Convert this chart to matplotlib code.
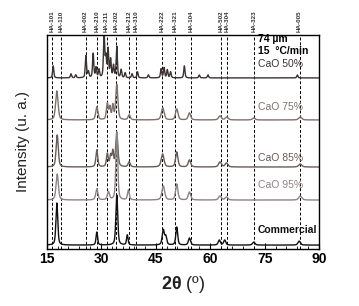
import matplotlib
matplotlib.use("Agg")
import matplotlib.pyplot as plt
import numpy as np
from matplotlib.ticker import MultipleLocator

plt.rcParams['font.family'] = ['Liberation Sans', 'DejaVu Sans']
plt.rcParams['mathtext.fontset'] = 'custom'
plt.rcParams['mathtext.bf'] = 'Liberation Sans:bold'

# reference lines (2theta, deg) and their labels
ref_pos = [16.5, 18.9, 25.7, 28.8, 31.5, 34.1, 37.7, 39.6, 46.7, 50.3,
           54.7, 62.9, 64.7, 72.1, 84.6]
ref_lab = ["HA-101", "HA-110", "HA-002", "HA-210", "HA-211", "HA-202",
           "HA-212", "HA-310", "HA-222", "HA-321", "HA-104", "HA-502",
           "HA-304", "HA-323", "HA-005"]

# each pattern: peak positions (deg), heights (px above baseline), widths (deg)
cao50_pos = [16.8, 21.7, 23.0, 25.8, 26.5, 27.8, 28.6, 29.4, 30.8, 31.3, 31.9,
             32.6, 33.4, 34.3, 35.5, 36.6, 38.5, 40.0, 43.0, 46.5, 47.3, 48.2,
             49.1, 52.9, 57.0, 59.4, 84.0]
cao50_h = [12, 4, 3, 22, 6, 24, 10, 8, 43, 20, 28, 18, 12, 31, 8, 5, 4, 6, 3,
           9, 10, 8, 6, 12, 3, 3, 3]
cao50_w = [0.4] * 27

cao75_pos = [17.8, 28.8, 31.7, 32.4, 33.2, 34.3, 37.7, 46.95, 50.8, 54.3,
             62.7, 64.6, 72.0, 84.8]
cao75_h = [29, 13, 16, 12, 14, 35, 5, 12, 11, 7, 4, 3, 2, 3]
cao75_w = [0.8, 0.7, 0.6, 0.5, 0.5, 0.7, 0.7, 0.9, 0.8, 0.8, 0.9, 0.9, 0.9, 1.0]

cao85_pos = [17.9, 28.8, 31.7, 32.6, 33.2, 34.3, 37.7, 46.9, 50.8, 54.3, 62.7,
             64.5, 84.8]
cao85_h = [32, 17, 13, 11, 15, 34, 5, 13, 15, 7, 5, 4, 3]
cao85_w = [0.7, 0.6, 0.6, 0.5, 0.5, 0.7, 0.7, 0.9, 0.75, 0.8, 0.9, 0.9, 1.0]

cao95_pos = [17.9, 28.8, 32.0, 34.3, 37.5, 47.1, 50.8, 54.3, 62.7, 64.5, 84.8]
cao95_h = [26, 11, 8, 68, 10, 14, 16, 8, 4, 3, 4]
cao95_w = [0.75, 0.7, 0.7, 0.6, 0.6, 0.9, 0.75, 0.8, 0.9, 0.9, 1.0]

comm_pos = [17.8, 28.8, 34.3, 37.2, 47.1, 47.8, 50.8, 54.3, 62.5, 64.0, 72.0,
            84.5]
comm_h = [42, 13, 50, 10, 15, 8, 18, 7, 5, 5, 3, 4]
comm_w = [0.6, 0.5, 0.6, 0.5, 0.7, 0.6, 0.6, 0.7, 0.7, 0.7, 0.8, 0.8]

names = ["CaO 50%", "CaO 75%", "CaO 85%", "CaO 95%", "Commercial"]
offsets = [171, 129, 82, 49, 4]
label_y = [185, 142, 91, 64, 19]
colors = ["#3b3232", "#7b716d", "#665c58", "#8c8482", "#111111"]

two_theta = np.arange(15, 90.01, 0.02)


def pattern(pos, h, w):
    # pseudo-Voigt peaks, half Gaussian / half Lorentzian
    y = np.zeros_like(two_theta)
    for p, a, g in zip(pos, h, w):
        d = (two_theta - p) / (g / 2)
        y += a * (0.5 / (1 + d ** 2) + 0.5 * np.exp(-np.log(2) * d ** 2))
    return y


series = [(cao50_pos, cao50_h, cao50_w), (cao75_pos, cao75_h, cao75_w),
          (cao85_pos, cao85_h, cao85_w), (cao95_pos, cao95_h, cao95_w),
          (comm_pos, comm_h, comm_w)]

fig = plt.figure(figsize=(3.59, 3.06), dpi=100)
ax = fig.add_axes([0.130, 0.186, 0.759, 0.700])

for x in ref_pos:
    ax.axvline(x, color="black", lw=0.7, ls=(0, (3, 2)), zorder=1)
for x, t in zip(ref_pos, ref_lab):
    ax.text(x, 1.012, t, transform=ax.get_xaxis_transform(), rotation=90,
            ha="center", va="bottom", fontsize=4.5, fontweight="bold",
            color="#333333")

for (pos, h, w), off, c in zip(series, offsets, colors):
    ax.plot(two_theta, pattern(pos, h, w) + off, color=c, lw=1.0, zorder=2)

for n, y, c in zip(names, label_y, colors):
    ax.text(73.2, y, n, fontsize=7.5, color=c, va="center",
            fontweight="bold" if n == "Commercial" else "normal")

ax.text(73.2, 209.5, "74 \u00b5m", fontsize=7.5, fontweight="bold", va="center")
ax.text(73.2, 198, "15  \u00b0C/min", fontsize=7.5, fontweight="bold", va="center")

ax.set_xlim(15, 90)
ax.set_ylim(0, 214)
ax.xaxis.set_major_locator(MultipleLocator(15))
ax.xaxis.set_minor_locator(MultipleLocator(3))
ax.tick_params(axis="x", which="both", direction="in", top=False)
ax.tick_params(axis="x", which="major", length=4, labelsize=10, pad=2)
ax.tick_params(axis="x", which="minor", length=2)
ax.set_yticks([])
for lab in ax.get_xticklabels():
    lab.set_fontweight("bold")
for s in ax.spines.values():
    s.set_linewidth(1.0)

ax.set_xlabel(r"$\mathbf{2\theta}$ (º)", fontsize=13, labelpad=6, color="#222222")
ax.set_ylabel("Intensity (u. a.)", fontsize=11, labelpad=12, color="#222222")

fig.savefig("out.png", dpi=100)
